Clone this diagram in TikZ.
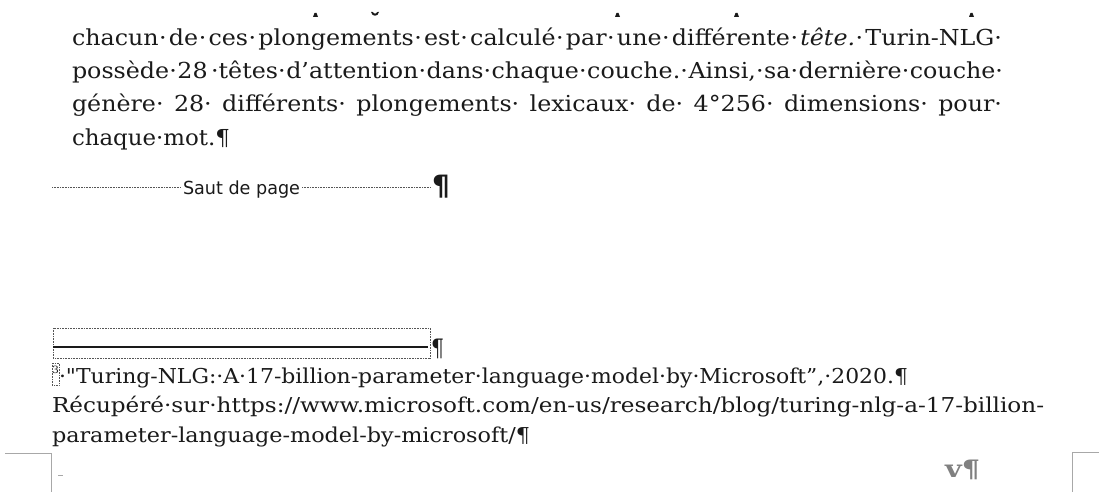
\documentclass[tikz,border=0pt]{standalone}
\usepackage{graphicx}
\usepackage{fontspec}
\setmainfont{DejaVu Serif}[FakeStretch=1.08, Ligatures=TeXOff]
\newfontfamily\sansf{DejaVu Sans}
\definecolor{txt}{HTML}{1A1A1A}
\definecolor{markgray}{HTML}{A8A8A8}
\definecolor{pagegray}{HTML}{808080}
\definecolor{dotgray}{HTML}{555555}
\newcommand\sd{\hskip 0pt plus 0.25fil\relax·\hskip 0pt plus 1fil minus 1pt\relax}
\newcommand\fitw[2]{\resizebox{#1}{\height}{#2}}
\tikzset{
  mainline/.style={anchor=base west, inner sep=0pt, outer sep=0pt, text=txt, font={\fontsize{22pt}{33pt}\selectfont}},
  footline/.style={anchor=base west, inner sep=0pt, outer sep=0pt, text=txt, font={\fontsize{20.5pt}{29pt}\selectfont}},
  breaktext/.style={anchor=base, inner sep=0pt, outer sep=0pt, text=txt, font={\sansf\fontsize{18pt}{20pt}\selectfont}},
  pilbold/.style={anchor=base west, inner sep=0pt, outer sep=0pt, text=txt, font={\sansf\bfseries\fontsize{28pt}{30pt}\selectfont}},
  pilnorm/.style={anchor=base west, inner sep=0pt, outer sep=0pt, text=txt, font={\fontsize{24pt}{28pt}\selectfont}},
  dotline/.style={draw=dotgray, line width=0.7pt, dash pattern=on 0.7pt off 0.9pt},
  dotbox/.style={draw=dotgray, line width=0.7pt, dash pattern=on 0.7pt off 0.9pt},
  sepline/.style={draw=txt, line width=1.4pt},
  cornerline/.style={draw=markgray, line width=1pt},
  frag/.style={fill=txt, draw=none},
}
\begin{document}
\begin{tikzpicture}[x=1pt,y=-1pt]
\useasboundingbox (0,0) rectangle (1099,492);
\fill[white] (0,0) rectangle (1099,492);

% fragments of the previous line (descenders)
\fill[frag] (313,17) -- (314.5,13) -- (316.5,13) -- (318,17) -- cycle;
\fill[frag] (371,12) .. controls (372,17) and (378,17) .. (379,12) -- (377.5,12) .. controls (376.5,14.5) and (373.5,14.5) .. (372.5,12) -- cycle;
\fill[frag] (615,17) -- (616.5,13) -- (618.5,13) -- (620,17) -- cycle;
\fill[frag] (734,17) -- (735.5,13) -- (737.5,13) -- (739,17) -- cycle;
\fill[frag] (969,17) -- (970.5,13) -- (972.5,13) -- (974,17) -- cycle;

% main paragraph
\node[mainline] (m1) at (72,46) {\makebox[930pt][s]{chacun\sd de\sd ces\sd plongements\sd est\sd calculé\sd par\sd une\sd différente\sd\textit{tête.}\sd Turin-NLG·}};
\node[mainline] (m2) at (72,79) {\makebox[931pt][s]{possède\sd 28\hskip 3pt plus 1fil minus 1pt·têtes\sd d’attention\sd dans\sd chaque\sd couche.\sd Ainsi,\sd sa\sd dernière\sd couche·}};
\node[mainline] (m3) at (72,112) {\makebox[930pt][s]{génère·\hskip 0pt plus 1fil\relax 28·\hskip 0pt plus 1fil\relax différents·\hskip 0pt plus 1fil\relax plongements·\hskip 0pt plus 1fil\relax lexicaux·\hskip 0pt plus 1fil\relax de·\hskip 0pt plus 1fil\relax 4°256·\hskip 0pt plus 1fil\relax dimensions·\hskip 0pt plus 1fil\relax pour·}};
\node[mainline] (m4) at (72,145) {\fitw{158pt}{chaque·mot.¶}};

% page break marker
\coordinate (pbl) at (52,187);
\coordinate (pbr) at (431,187);
\node[breaktext] (sdp) at (241.5,194) {\fitw{117pt}{Saut de page}};
\draw[dotline] (pbl) -- ([xshift=-2pt]sdp.west |- pbl);
\draw[dotline] ([xshift=2pt]sdp.east |- pbr) -- (pbr);
\node[pilbold] (pbp) at (432,195) {¶};

% footnote separator
\draw[dotbox] (53,328) rectangle (430,358);
\coordinate (sepl) at (53,347);
\coordinate (sepr) at (428,347);
\draw[sepline] (sepl) -- (sepr);
\node[pilnorm] (sepp) at (431,356) {\fitw{13pt}{¶}};

% footnote
\draw[dotbox] (52,363) rectangle (59,385);
\node[inner sep=0pt, text=txt, font={\fontsize{10pt}{10pt}\selectfont}] (fnm) at (55.5,370) {3};
\node[footline] (f1) at (59,383) {\fitw{849pt}{·"Turing-NLG:·A·17-billion-parameter·language·model·by·Microsoft”,·2020.¶}};
\node[footline] (f2) at (52,412) {\fitw{992pt}{Récupéré·sur·https://www.microsoft.com/en-us/research/blog/turing-nlg-a-17-billion-}};
\node[footline] (f3) at (52,442) {\fitw{478pt}{parameter-language-model-by-microsoft/¶}};

% page corners and page number
\draw[cornerline] (5,453) -- (51,453) -- (51,492);
\draw[cornerline] (1072,492) -- (1072,452) -- (1099,452);
\draw[draw=markgray, line width=0.7pt] (58,475) -- (63,475);
\node[anchor=base west, inner sep=0pt, text=pagegray, font={\bfseries\fontsize{24pt}{26pt}\selectfont}] (pnum) at (945,477) {\fitw{35pt}{v¶}};
\end{tikzpicture}
\end{document}
